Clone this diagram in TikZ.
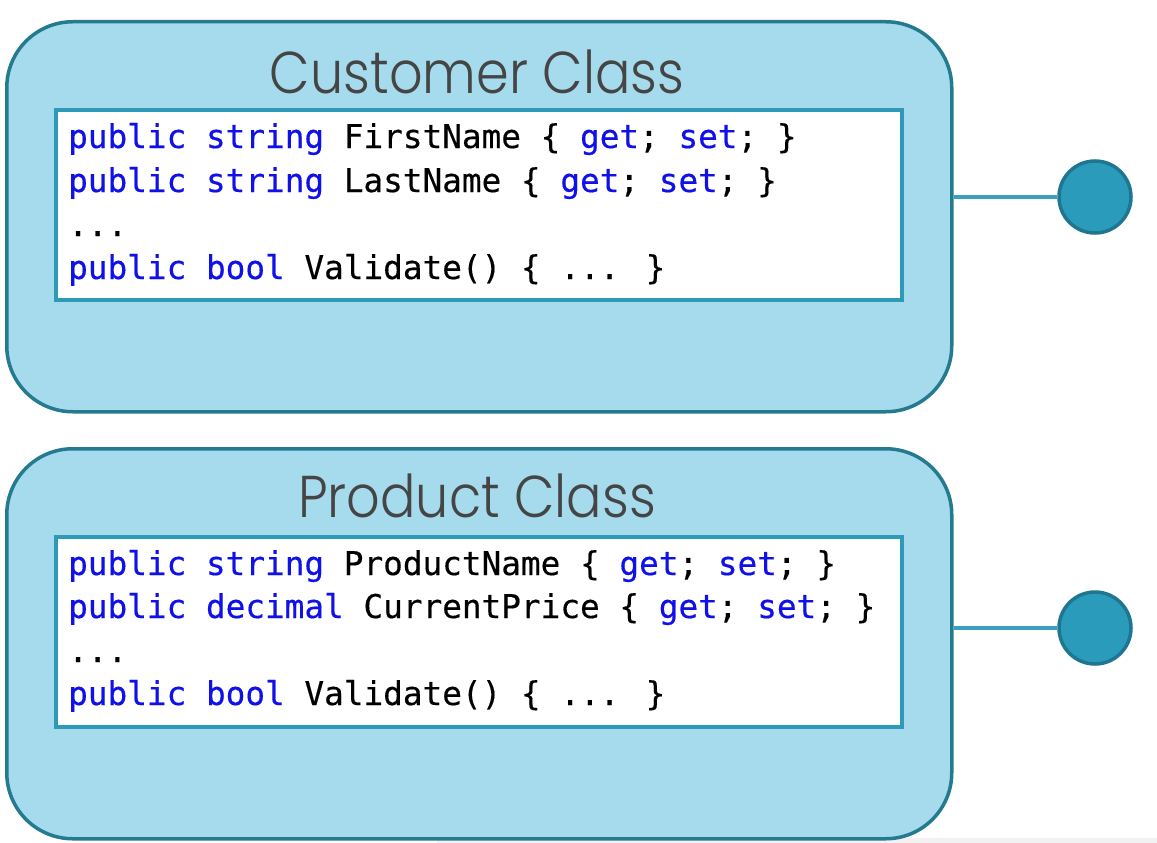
\documentclass[tikz,border=0pt]{standalone}
\usepackage{fontspec}
\newfontfamily\titlefont{Poppins Light}
\newfontfamily\codefont[FakeBold=0.4]{DejaVu Sans Mono}
\definecolor{boxfill}{HTML}{A5DBEC}
\definecolor{boxedge}{HTML}{247A8E}
\definecolor{codeedge}{HTML}{2E9AB8}
\definecolor{portfill}{HTML}{2B9BBB}
\definecolor{portedge}{HTML}{1F7690}
\definecolor{linkcol}{HTML}{3AA0BF}
\definecolor{kwblue}{HTML}{1010E8}
\definecolor{titlegray}{HTML}{454545}
\definecolor{strip}{HTML}{F2F2F2}
\newcommand\kw[1]{\textcolor{kwblue}{#1}}
\begin{document}
\begin{tikzpicture}[x=1pt,y=-1pt,
  classbox/.style={draw=boxedge, line width=3.5pt, fill=boxfill, rounded corners=66pt,
    minimum width=945pt, minimum height=390pt, anchor=north west, inner sep=0pt},
  codebox/.style={draw=codeedge, line width=4pt, fill=white,
    minimum width=846pt, minimum height=190pt, anchor=north west, inner sep=0pt},
  port/.style={circle, draw=portedge, line width=3.5pt, fill=portfill, minimum size=72pt, inner sep=0pt},
  link/.style={draw=linkcol, line width=3.5pt},
  title/.style={font=\titlefont\fontsize{59}{66}\selectfont, text=titlegray, anchor=base, inner sep=0pt, xscale=0.89},
  code/.style={font=\codefont\fontsize{32.7}{40}\selectfont, anchor=base west, inner sep=0pt}
]
\useasboundingbox (0,0) rectangle (1157,843);
\fill[strip] (437,838) rectangle (1157,843);

% Customer class
\node[classbox] (cust) at (5,20) {};
\node[title] (ctitle) at (477,93) {Customer Class};
\node[codebox] (ccode) at (54,108) {};
\node[code] (c1) at (68,148) {\kw{public} \kw{string} FirstName \{ \kw{get}; \kw{set}; \}};
\node[code] (c2) at (68,192) {\kw{public} \kw{string} LastName \{ \kw{get}; \kw{set}; \}};
\node[code] (c3) at (68,236) {...};
\node[code] (c4) at (68,279) {\kw{public} \kw{bool} Validate() \{ ... \}};
\node[port] (cport) at (1095,197) {};
\draw[link] (cport.west) -- (cport.west -| cust.east);

% Product class
\node[classbox] (prod) at (5,447) {};
\node[title] (ptitle) at (477,517) {Product Class};
\node[codebox] (pcode) at (54,535) {};
\node[code] (p1) at (68,575) {\kw{public} \kw{string} ProductName \{ \kw{get}; \kw{set}; \}};
\node[code] (p2) at (68,618) {\kw{public} \kw{decimal} CurrentPrice \{ \kw{get}; \kw{set}; \}};
\node[code] (p3) at (68,662) {...};
\node[code] (p4) at (68,705) {\kw{public} \kw{bool} Validate() \{ ... \}};
\node[port] (pport) at (1095,628) {};
\draw[link] (pport.west) -- (pport.west -| prod.east);
\end{tikzpicture}
\end{document}
